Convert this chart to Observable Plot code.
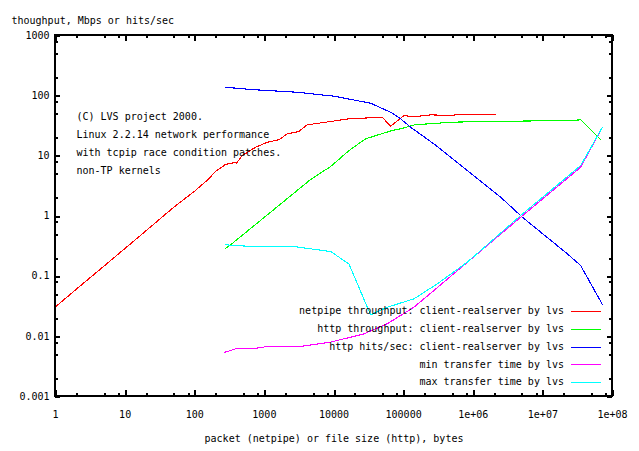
<!DOCTYPE html>
<html><head><meta charset="utf-8">
<script src="https://cdn.jsdelivr.net/npm/d3@7"></script>
<script src="https://cdn.jsdelivr.net/npm/@observablehq/plot@0.6"></script>
<style>
body{margin:0;background:#fff;}
#chart svg{display:block;}
</style>
</head><body><div id="chart"></div>
<script>
// ---- data ----
const netpipeX = [1, 2, 5, 10, 20, 50, 100, 150, 199, 277, 386, 400, 481, 748, 1100, 1617, 2130, 3130, 4130, 7570, 16400, 49400, 65000, 101000, 137000, 149000, 244000, 473000, 560000, 2100000];
const netpipeY = [0.031, 0.061, 0.148, 0.29, 0.57, 1.4, 2.6, 3.9, 5.5, 7.2, 7.8, 7.6, 10.1, 13.9, 16.8, 18.5, 23.2, 25.4, 32.8, 36.2, 41.2, 43.8, 31, 46.8, 44.6, 45, 48, 46.8, 48, 48];

const httpTputX = [277, 327, 1228, 4610, 8940, 16400, 28400, 68800, 90600, 149000, 244000, 473000, 1600000, 25000000, 34900000, 67700000];
const httpTputY = [0.292, 0.332, 1.156, 4.04, 6.64, 12.2, 19.2, 26.4, 28.1, 33.2, 34.1, 36.2, 37.3, 38.6, 39.7, 18.5];

const hitsX = [277, 670, 2970, 9970, 33500, 65000, 90600, 126000, 272000, 822000, 2480000, 5070000, 22500000, 34900000, 71600000];
const hitsY = [138, 126, 114, 98, 75, 53, 41.2, 29.9, 15.8, 5.7, 2.05, 0.955, 0.235, 0.150, 0.0338];

const minTimeX = [271, 327, 386, 670, 1040, 3310, 8940, 26900, 58300, 140600, 272000, 4800000, 34900000, 67700000];
const minTimeY = [0.00544, 0.00582, 0.00621, 0.00621, 0.0067, 0.0068, 0.0080, 0.011, 0.0162, 0.0305, 0.0578, 0.955, 6.47, 26.4];

const maxTimeX = [277, 670, 2630, 8940, 16400, 33500, 58300, 140600, 305000, 822000, 4800000, 34900000, 71600000];
const maxTimeY = [0.332, 0.311, 0.311, 0.257, 0.160, 0.0228, 0.0305, 0.042, 0.0747, 0.171, 1.02, 6.9, 29.9];

const seriesNames = [
  "netpipe throughput: client-realserver by lvs",
  "http throughput: client-realserver by lvs",
  "http hits/sec: client-realserver by lvs",
  "min transfer time by lvs",
  "max transfer time by lvs"
];
const seriesColors = ["#ff0000", "#00ff00", "#0000ff", "#ff00ff", "#00ffff"];

const xMajorTicks = [1, 10, 100, 1000, 1e4, 1e5, 1e6, 1e7, 1e8];
const xTickLabels = ["1", "10", "100", "1000", "10000", "100000", "1e+06", "1e+07", "1e+08"];
const yMajorTicks = [0.001, 0.01, 0.1, 1, 10, 100, 1000];
const yTickLabels = ["0.001", "0.01", "0.1", "1", "10", "100", "1000"];
const minorMultipliers = [2, 5, 8];

const noteLines = [
  "(C) LVS project 2000.",
  "Linux 2.2.14 network performance",
  "with tcpip race condition patches.",
  "non-TP kernels"
];
const yTitle = "thoughput, Mbps or hits/sec";
const xTitle = "packet (netpipe) or file size (http), bytes";

// ---- build ----
const seriesXs = [netpipeX, httpTputX, hitsX, minTimeX, maxTimeX];
const seriesYs = [netpipeY, httpTputY, hitsY, minTimeY, maxTimeY];
const seriesRows = seriesXs.map((xs, s) => xs.map((x, i) => ({x, y: seriesYs[s][i]})));

const xLabelMap = new Map(xMajorTicks.map((v, i) => [v, xTickLabels[i]]));
const yLabelMap = new Map(yMajorTicks.map((v, i) => [v, yTickLabels[i]]));
const minorOf = majors => majors.slice(0, -1).flatMap(m => minorMultipliers.map(k => m * k));
const xMinor = minorOf(xMajorTicks);
const yMinor = minorOf(yMajorTicks);

const FONT = "'DejaVu Sans Mono', 'Liberation Mono', monospace";

function frameAndTicks(index, scales, values, dims) {
  const {x, y} = scales;
  const x0 = dims.marginLeft, x1 = dims.width - dims.marginRight;
  const y0 = dims.marginTop, y1 = dims.height - dims.marginBottom;
  const g = d3.create("svg:g").attr("stroke", "#000").attr("fill", "none")
    .attr("shape-rendering", "crispEdges");
  const addX = (vals, len) => vals.forEach(v => {
    const px = Math.round(x(v)) + 0.5;
    g.append("line").attr("x1", px).attr("x2", px).attr("y1", y1).attr("y2", y1 - len).attr("stroke-width", 2);
    g.append("line").attr("x1", px).attr("x2", px).attr("y1", y0).attr("y2", y0 + len).attr("stroke-width", 2);
  });
  const addY = (vals, len) => vals.forEach(v => {
    const py = Math.round(y(v)) + 0.5;
    g.append("line").attr("y1", py).attr("y2", py).attr("x1", x0).attr("x2", x0 + len).attr("stroke-width", 2);
    g.append("line").attr("y1", py).attr("y2", py).attr("x1", x1).attr("x2", x1 - len).attr("stroke-width", 2);
  });
  addX(xMajorTicks, 6); addX(xMinor, 3);
  addY(yMajorTicks, 5); addY(yMinor, 3);
  g.append("rect").attr("x", x0).attr("y", y0).attr("width", x1 - x0).attr("height", y1 - y0)
    .attr("stroke-width", 2.5);
  return g.node();
}

function legend(index, scales, values, dims) {
  const x1 = dims.width - dims.marginRight;
  const y1 = dims.height - dims.marginBottom;
  const g = d3.create("svg:g").attr("font-family", FONT).attr("font-size", 10);
  seriesNames.forEach((name, i) => {
    const cy = y1 - 85 + i * 17.8;
    g.append("text").attr("x", x1 - 48).attr("y", cy).attr("dy", "0.32em")
      .attr("text-anchor", "end").attr("fill", "#000").text(name);
    g.append("line").attr("x1", x1 - 41).attr("x2", x1 - 11)
      .attr("y1", Math.round(cy) + 0.5).attr("y2", Math.round(cy) + 0.5)
      .attr("stroke", seriesColors[i]).attr("stroke-width", 1.2).attr("shape-rendering", "crispEdges");
  });
  return g.node();
}

const chart = Plot.plot({
  width: 639,
  height: 451,
  marginLeft: 55,
  marginRight: 27,
  marginTop: 35,
  marginBottom: 55,
  style: {fontFamily: FONT, fontSize: "10px", background: "#fff", color: "#000"},
  x: {type: "log", domain: [1, 1e8]},
  y: {type: "log", domain: [0.001, 1000]},
  marks: [
    ...seriesRows.map((rows, s) => Plot.line(rows, {
      x: "x", y: "y", stroke: seriesColors[s], strokeWidth: 1.1, shapeRendering: "crispEdges"
    })),
    Plot.axisX({anchor: "bottom", ticks: xMajorTicks, tickFormat: d => xLabelMap.get(d),
      tickSize: 0, tickPadding: 14, label: null, fontSize: 10}),
    Plot.axisY({anchor: "left", ticks: yMajorTicks, tickFormat: d => yLabelMap.get(d),
      tickSize: 0, tickPadding: 6, label: null, fontSize: 10}),
    frameAndTicks,
    legend,
    Plot.text([yTitle], {frameAnchor: "top-left", text: d => d, dx: -44, dy: -18.5,
      textAnchor: "start", fontSize: 10, fill: "#000"}),
    Plot.text([xTitle], {frameAnchor: "bottom", text: d => d, dy: 45, fontSize: 10, fill: "#000"}),
    Plot.text([noteLines.join("\n")], {frameAnchor: "top-left", text: d => d, dx: 21, dy: 72,
      lineAnchor: "top", lineHeight: 1.8, textAnchor: "start", fontSize: 10, fill: "#000"})
  ]
});
document.getElementById("chart").appendChild(chart);
</script>
</body></html>
